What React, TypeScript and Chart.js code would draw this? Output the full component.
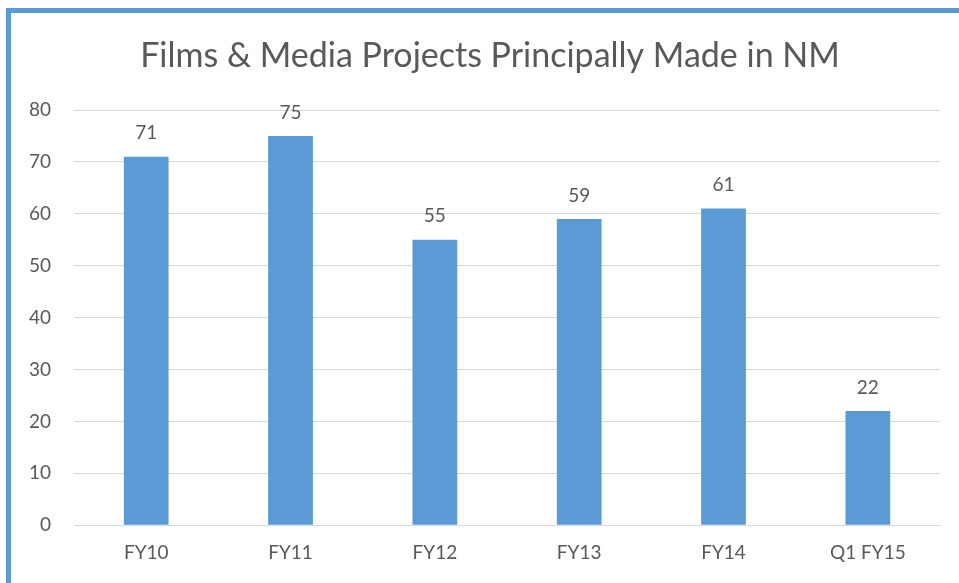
import React, { useEffect, useRef } from "react";
import { Chart, registerables } from "chart.js";

Chart.register(...registerables);

const categories = ["FY10", "FY11", "FY12", "FY13", "FY14", "Q1 FY15"];
const projects = [71, 75, 55, 59, 61, 22];
const yTicks = [0, 10, 20, 30, 40, 50, 60, 70, 80];
const titleText = "Films & Media Projects Principally Made in NM";

const FONT = "Lato, 'Open Sans', sans-serif";
const TEXT = "#595959";

const valueLabels = {
  id: "valueLabels",
  afterDatasetsDraw(chart: any) {
    const ctx = chart.ctx;
    ctx.save();
    ctx.font = `19px ${FONT}`;
    ctx.fillStyle = TEXT;
    ctx.textAlign = "center";
    ctx.textBaseline = "bottom";
    chart.data.datasets.forEach((ds: any, i: number) => {
      const meta = chart.getDatasetMeta(i);
      meta.data.forEach((bar: any, j: number) => {
        ctx.fillText(String(ds.data[j]), bar.x, bar.y - 14);
      });
    });
    ctx.restore();
  },
};

const chartTitle = {
  id: "chartTitle",
  afterDraw(chart: any) {
    const ctx = chart.ctx;
    ctx.save();
    ctx.font = `400 34px ${FONT}`;
    ctx.fillStyle = TEXT;
    ctx.textAlign = "center";
    ctx.textBaseline = "alphabetic";
    ctx.fillText(titleText, 479, 54);
    ctx.restore();
  },
};

export default function App() {
  const ref = useRef<HTMLCanvasElement>(null);
  useEffect(() => {
    document.body.style.margin = "0";
    const chart = new Chart(ref.current!, {
      type: "bar",
      data: {
        labels: categories,
        datasets: [
          {
            data: projects,
            backgroundColor: "#5b9bd5",
            barPercentage: 0.31,
            categoryPercentage: 1,
          },
        ],
      },
      options: {
        animation: false,
        responsive: false,
        layout: { padding: { left: -5, right: 19, top: 97, bottom: 3 } },
        plugins: {
          legend: { display: false },
          tooltip: { enabled: false },
          title: { display: false },
        },
        scales: {
          x: {
            grid: { display: false, drawTicks: false },
            border: { display: true, color: "#d9d9d9", width: 1 },
            ticks: { color: TEXT, font: { family: FONT, size: 19 }, padding: 16 },
          },
          y: {
            min: 0,
            max: 80,
            afterBuildTicks: (axis: any) => {
              axis.ticks = yTicks.map((v) => ({ value: v }));
            },
            grid: { color: "#d9d9d9", drawTicks: false },
            border: { display: false },
            ticks: { color: TEXT, font: { family: FONT, size: 19 }, padding: 23 },
          },
        },
      },
      plugins: [valueLabels, chartTitle],
    });
    return () => chart.destroy();
  }, []);
  return (
    <div
      style={{
        position: "absolute",
        left: 6,
        top: 8,
        width: 953,
        height: 575,
        boxSizing: "border-box",
        borderLeft: "5px solid #5b9bd5",
        borderTop: "5px solid #5b9bd5",
        background: "#fff",
      }}
    >
      <canvas ref={ref} width={948} height={570} style={{ display: "block" }} />
    </div>
  );
}
